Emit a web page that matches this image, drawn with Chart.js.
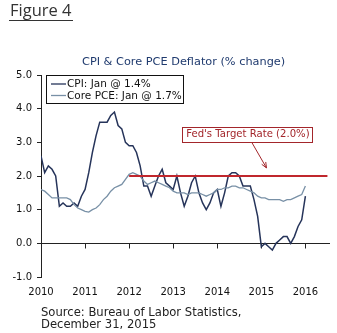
<!DOCTYPE html>
<html>
<head>
<meta charset="utf-8">
<script src="https://cdn.jsdelivr.net/npm/chart.js@4.4.1/dist/chart.umd.min.js"></script>
<style>
  html, body { margin: 0; padding: 0; background: #fff; }
  #wrap { position: relative; width: 337px; height: 333px; overflow: hidden; }
  #chart { position: absolute; left: 0; top: 0; }
  .fig { position: absolute; left: 9px; top: 0; padding: 0 1px; font-family: "Open Sans", sans-serif; font-size: 16.5px; line-height: 20px; color: #333; border-bottom: 1px solid #333; }
  .title { position: absolute; left: 82px; top: 55px; font-family: "DejaVu Sans", sans-serif; font-size: 11.3px; line-height: 13px; color: #1f3a6e; white-space: nowrap; }
  .source { position: absolute; left: 41px; top: 306px; font-family: "DejaVu Sans", sans-serif; font-size: 11.6px; line-height: 12px; color: #222; white-space: nowrap; }
</style>
</head>
<body>
<div id="wrap">
  <canvas id="chart" width="337" height="333"></canvas>
  <div class="fig">Figure 4</div>
  <div class="title">CPI &amp; Core PCE Deflator (% change)</div>
  <div class="source">Source: Bureau of Labor Statistics,<br>December 31, 2015</div>
</div>
<script>
// monthly, Jan 2010 .. Jan 2016 (year-over-year % change)
const yearLabels = ["2010", "2011", "2012", "2013", "2014", "2015", "2016"];
const yTicks = [-1, 0, 1, 2, 3, 4, 5];

const cpi = [
    2.6, 2.1, 2.3, 2.2, 2.0, 1.1, 1.2, 1.1, 1.1, 1.2, 1.1, 1.4,
    1.6, 2.1, 2.7, 3.2, 3.6, 3.6, 3.6, 3.8, 3.9, 3.5, 3.4, 3.0,
    2.9, 2.9, 2.7, 2.3, 1.7, 1.7, 1.4, 1.7, 2.0, 2.2, 1.8, 1.7,
    1.6, 2.0, 1.5, 1.1, 1.4, 1.8, 2.0, 1.5, 1.2, 1.0, 1.2, 1.5,
    1.6, 1.1, 1.5, 2.0, 2.1, 2.1, 2.0, 1.7, 1.7, 1.7, 1.3, 0.8,
    -0.1, 0.0, -0.1, -0.2, 0.0, 0.1, 0.2, 0.2, 0.0, 0.2, 0.5, 0.7,
    1.4
];

const corePce = [
    1.6, 1.55, 1.45, 1.35, 1.35, 1.35, 1.35, 1.35, 1.3, 1.15, 1.05, 1.0,
    0.95, 0.93, 1.0, 1.05, 1.15, 1.3, 1.4, 1.55, 1.65, 1.7, 1.75, 1.9,
    2.05, 2.1, 2.05, 2.0, 1.85, 1.75, 1.8, 1.85, 1.8, 1.75, 1.7, 1.65,
    1.55, 1.5, 1.5, 1.5, 1.45, 1.5, 1.5, 1.5, 1.45, 1.4, 1.45, 1.5,
    1.6, 1.6, 1.65, 1.65, 1.7, 1.7, 1.65, 1.65, 1.6, 1.55, 1.5, 1.4,
    1.35, 1.35, 1.3, 1.3, 1.3, 1.3, 1.25, 1.3, 1.3, 1.35, 1.4, 1.45,
    1.7
];

const targetMonths = [24, 78];
const targetRate = 2.0;

const cpiColor = "#26345a";
const pceColor = "#7890a6";
const redColor = "#c0272d";
const noteColor = "#a3262b";

const series = (arr) => arr.map((v, i) => ({ x: i, y: v }));

// zero line with year tick marks hanging below it
const zeroAxis = {
    id: "zeroAxis",
    beforeDatasetsDraw(chart) {
        const { ctx, chartArea, scales } = chart;
        const y0 = Math.round(scales.y.getPixelForValue(0)) + 0.5;
        ctx.save();
        ctx.strokeStyle = "#222";
        ctx.lineWidth = 1;
        ctx.beginPath();
        ctx.moveTo(chartArea.left, y0);
        ctx.lineTo(chartArea.right, y0);
        scales.x.ticks.forEach((t) => {
            if (t.value === 0) return;
            const x = Math.round(scales.x.getPixelForValue(t.value)) + 0.5;
            ctx.moveTo(x, y0);
            ctx.lineTo(x, y0 + 5);
        });
        ctx.stroke();
        ctx.restore();
    }
};

const boxes = {
    id: "boxes",
    afterDraw(chart) {
        const { ctx, chartArea, scales } = chart;
        ctx.save();
        ctx.font = "10.5px 'DejaVu Sans'";
        ctx.textBaseline = "middle";

        // legend
        const lx = chartArea.left + 5, ly = chartArea.top + 0.5;
        ctx.strokeStyle = "#111";
        ctx.lineWidth = 1;
        ctx.strokeRect(lx + 0.5, ly, 137, 28);
        [["CPI: Jan @ 1.4%", cpiColor], ["Core PCE: Jan @ 1.7%", pceColor]].forEach(([txt, col], i) => {
            const y = ly + 8.5 + i * 11.5;
            ctx.strokeStyle = col;
            ctx.lineWidth = 1.3;
            ctx.beginPath();
            ctx.moveTo(lx + 5, y);
            ctx.lineTo(lx + 20, y);
            ctx.stroke();
            ctx.fillStyle = "#111";
            ctx.fillText(txt, lx + 21, y + 0.5);
        });

        // target note
        ctx.font = "10.1px 'DejaVu Sans'";
        const nx = scales.x.getPixelForValue(56.2), ny = scales.y.getPixelForValue(3.24);
        const label = "Fed's Target Rate (2.0%)";
        const w = 130, h = 15;
        ctx.strokeStyle = noteColor;
        ctx.lineWidth = 1;
        ctx.strokeRect(Math.round(nx - w / 2) + 0.5, Math.round(ny - h / 2) + 0.5, w, h);
        ctx.fillStyle = noteColor;
        ctx.textAlign = "center";
        ctx.fillText(label, nx + 0.5, ny + 0.5);

        const ax1 = scales.x.getPixelForValue(57.5), ay1 = scales.y.getPixelForValue(2.98);
        const ax2 = scales.x.getPixelForValue(61.4), ay2 = scales.y.getPixelForValue(2.24);
        ctx.beginPath();
        ctx.moveTo(ax1, ay1);
        ctx.lineTo(ax2, ay2);
        ctx.stroke();
        const ang = Math.atan2(ay2 - ay1, ax2 - ax1);
        ctx.beginPath();
        ctx.moveTo(ax2, ay2);
        ctx.lineTo(ax2 - 6 * Math.cos(ang - 0.4), ay2 - 6 * Math.sin(ang - 0.4));
        ctx.moveTo(ax2, ay2);
        ctx.lineTo(ax2 - 6 * Math.cos(ang + 0.4), ay2 - 6 * Math.sin(ang + 0.4));
        ctx.stroke();
        ctx.restore();
    }
};

new Chart(document.getElementById("chart"), {
    type: "line",
    data: {
        datasets: [
            {
                label: "Fed's Target Rate",
                data: targetMonths.map((m) => ({ x: m, y: targetRate })),
                borderColor: redColor,
                borderWidth: 2,
            },
            {
                label: "Core PCE",
                data: series(corePce),
                borderColor: pceColor,
                borderWidth: 1.3,
            },
            {
                label: "CPI",
                data: series(cpi),
                borderColor: cpiColor,
                borderWidth: 1.5,
            }
        ],
    },
    options: {
        responsive: false,
        animation: false,
        devicePixelRatio: 1,
        layout: { padding: { top: 75, left: 0, right: 7, bottom: 36 } },
        elements: { point: { radius: 0 }, line: { tension: 0 } },
        plugins: { legend: { display: false }, tooltip: { enabled: false } },
        scales: {
            x: {
                type: "linear",
                min: 0,
                max: 78.7,
                afterBuildTicks: (s) => { s.ticks = yearLabels.map((_, i) => ({ value: i * 12 })); },
                afterFit: (s) => { s.height = 20; },
                ticks: {
                    callback: (v) => yearLabels[v / 12],
                    font: { family: "DejaVu Sans", size: 10 },
                    color: "#111",
                    padding: 9,
                    maxRotation: 0,
                    autoSkip: false,
                },
                grid: { display: false, drawTicks: false },
                border: { display: false },
            },
            y: {
                min: -1,
                max: 5,
                afterBuildTicks: (s) => { s.ticks = yTicks.map((v) => ({ value: v })); },
                afterFit: (s) => { s.width = 41; },
                ticks: {
                    callback: (v) => v.toFixed(1),
                    font: { family: "DejaVu Sans", size: 10 },
                    color: "#111",
                    padding: 5,
                },
                grid: { drawOnChartArea: false, drawTicks: true, tickLength: 4, color: "#222" },
                border: { display: true, color: "#222", width: 1 },
            },
        },
    },
    plugins: [zeroAxis, boxes],
});
</script>
</body>
</html>
